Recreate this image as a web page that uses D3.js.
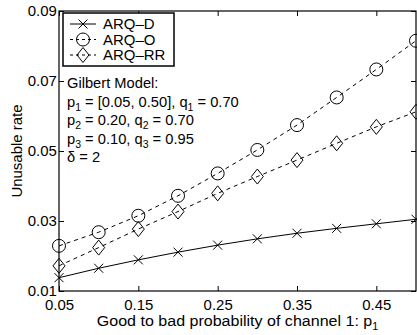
<!DOCTYPE html>
<html>
<head>
<meta charset="utf-8">
<script src="https://cdn.jsdelivr.net/npm/d3@7"></script>
<style>
  body { margin: 0; background: #fff; }
  text { font-family: "Liberation Sans", Arial, Helvetica, sans-serif; fill: #000; }
</style>
</head>
<body>
<div id="chart"></div>
<script>
// data
var pValues = [0.05, 0.10, 0.15, 0.20, 0.25, 0.30, 0.35, 0.40, 0.45, 0.50];
var arqD  = [0.0138, 0.0165, 0.0189, 0.0211, 0.0231, 0.0249, 0.0265, 0.0279, 0.0292, 0.0305];
var arqO  = [0.0229, 0.0268, 0.0315, 0.0372, 0.0436, 0.0503, 0.0574, 0.0653, 0.0733, 0.0815];
var arqRR = [0.0172, 0.0224, 0.0277, 0.0327, 0.0379, 0.0427, 0.0474, 0.0522, 0.0569, 0.0612];
var xTicks = [0.05, 0.15, 0.25, 0.35, 0.45];
var yTicks = [0.01, 0.03, 0.05, 0.07, 0.09];
var seriesNames = ["ARQ\u2013D", "ARQ\u2013O", "ARQ\u2013RR"];

var W = 417, H = 335;
var margin = { top: 11, right: 1, bottom: 44, left: 59 };
var width = W - margin.left - margin.right,
    height = H - margin.top - margin.bottom;
var stretch = "scale(1.07,1)";   // the original text is a bit wide for its height

var svg = d3.select("#chart").append("svg")
  .attr("width", W)
  .attr("height", H);

var g = svg.append("g")
  .attr("transform", "translate(" + margin.left + "," + margin.top + ")");

var x = d3.scaleLinear().domain([0.05, 0.50]).range([0, width]);
var y = d3.scaleLinear().domain([0.01, 0.09]).range([height, 0]);

// axes, ticks pointing inward on all four sides
var fmt = d3.format(".2f");
g.append("g")
  .attr("transform", "translate(0," + height + ")")
  .call(d3.axisBottom(x).tickValues(xTicks).tickFormat(fmt).tickSizeInner(-5).tickSizeOuter(0).tickPadding(9))
  .call(function(a) { a.select(".domain").remove(); })
  .selectAll("text").style("font-size", "14px").attr("font-family", null).attr("transform", stretch);
g.append("g")
  .call(d3.axisTop(x).tickValues(xTicks).tickFormat("").tickSizeInner(-5).tickSizeOuter(0))
  .call(function(a) { a.select(".domain").remove(); });
g.append("g")
  .call(d3.axisLeft(y).tickValues(yTicks).tickFormat(fmt).tickSizeInner(-5).tickSizeOuter(0).tickPadding(2))
  .call(function(a) { a.select(".domain").remove(); })
  .selectAll("text").style("font-size", "14px").attr("font-family", null).attr("transform", stretch);
g.append("g")
  .attr("transform", "translate(" + width + ",0)")
  .call(d3.axisRight(y).tickValues(yTicks).tickFormat("").tickSizeInner(-5).tickSizeOuter(0))
  .call(function(a) { a.select(".domain").remove(); });

g.append("rect")
  .attr("width", width).attr("height", height)
  .attr("fill", "none").attr("stroke", "#000").attr("stroke-width", 1.2);

// markers
function drawMarker(sel, kind, cx, cy) {
  if (kind === "x") {
    var s = 4.5;
    sel.append("path")
      .attr("d", "M" + (cx - s) + "," + (cy - s) + "L" + (cx + s) + "," + (cy + s) +
                 "M" + (cx - s) + "," + (cy + s) + "L" + (cx + s) + "," + (cy - s))
      .attr("stroke", "#000").attr("fill", "none");
  } else if (kind === "o") {
    sel.append("circle").attr("cx", cx).attr("cy", cy).attr("r", 6.5)
      .attr("stroke", "#000").attr("fill", "none");
  } else {
    var d = 7.5;
    sel.append("path")
      .attr("d", "M" + cx + "," + (cy - d) + "L" + (cx + d * 0.8) + "," + cy + "L" + cx + "," + (cy + d) + "L" + (cx - d * 0.8) + "," + cy + "Z")
      .attr("stroke", "#000").attr("fill", "none");
  }
}

var series = [
  { name: seriesNames[0], values: arqD,  marker: "x", dash: null },
  { name: seriesNames[1], values: arqO,  marker: "o", dash: "4,4" },
  { name: seriesNames[2], values: arqRR, marker: "d", dash: "4,4" }
];

var line = d3.line()
  .x(function(d) { return x(d[0]); })
  .y(function(d) { return y(d[1]); });

var plot = g.append("g");
series.forEach(function(s) {
  var pts = pValues.map(function(p, i) { return [p, s.values[i]]; });
  plot.append("path")
    .datum(pts)
    .attr("d", line)
    .attr("fill", "none")
    .attr("stroke", "#000")
    .attr("stroke-width", 1)
    .attr("stroke-dasharray", s.dash);
  var mk = plot.append("g");
  pts.forEach(function(d) { drawMarker(mk, s.marker, x(d[0]), y(d[1])); });
});

// legend
var leg = svg.append("g");
leg.append("rect")
  .attr("x", 63).attr("y", 13).attr("width", 111).attr("height", 53)
  .attr("fill", "#fff").attr("stroke", "#000").attr("stroke-width", 1.5);
series.forEach(function(s, i) {
  var ly = 24 + i * 15.5;
  leg.append("line")
    .attr("x1", 70).attr("x2", 96).attr("y1", ly).attr("y2", ly)
    .attr("stroke", "#000").attr("stroke-dasharray", s.dash ? "3,3" : null);
  drawMarker(leg, s.marker, 83, ly);
  leg.append("text")
    .attr("transform", "translate(103," + (ly + 5) + ") " + stretch)
    .style("font-size", "14px")
    .text(s.name);
});

// parameter annotation
var notes = [
  [["Gilbert Model:", ""]],
  [["p", ""], ["1", "sub"], [" = [0.05, 0.50], q", ""], ["1", "sub"], [" = 0.70", ""]],
  [["p", ""], ["2", "sub"], [" = 0.20, q", ""], ["2", "sub"], [" = 0.70", ""]],
  [["p", ""], ["3", "sub"], [" = 0.10, q", ""], ["3", "sub"], [" = 0.95", ""]],
  [["\u03b4 = 2", ""]]
];
notes.forEach(function(parts, i) {
  var t = svg.append("text")
    .attr("transform", "translate(67," + (88 + i * 18.5) + ") scale(1.05,1)")
    .style("font-size", "14px");
  parts.forEach(function(p) {
    var ts = t.append("tspan").text(p[0]);
    if (p[1] === "sub") ts.attr("dy", 4).style("font-size", "10px");
    else if (p !== parts[0]) ts.attr("dy", -4);
  });
});

// axis titles
svg.append("text")
  .attr("transform", "translate(22," + (margin.top + height / 2) + ") rotate(-90) " + stretch)
  .attr("text-anchor", "middle")
  .style("font-size", "14px")
  .text("Unusable rate");

var xl = svg.append("text")
  .attr("transform", "translate(" + (margin.left + width / 2) + ",326) " + stretch)
  .attr("text-anchor", "middle")
  .style("font-size", "15px");
xl.append("tspan").text("Good to bad probability of channel 1: p");
xl.append("tspan").attr("dy", 4).style("font-size", "10px").text("1");
</script>
</body>
</html>
